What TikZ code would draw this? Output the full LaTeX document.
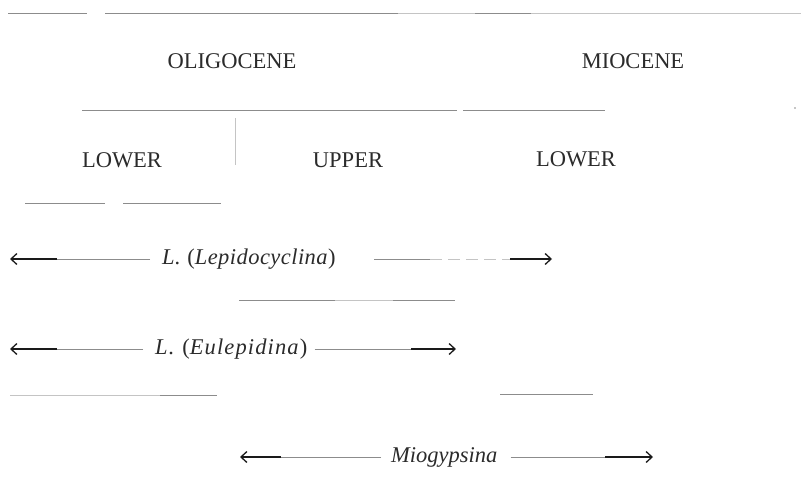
\documentclass[tikz,border=0pt]{standalone}
\usepackage{fontspec}
\setmainfont{Liberation Serif}
\usetikzlibrary{arrows.meta}
\definecolor{ink}{HTML}{2B2B2B}
\definecolor{rulegray}{HTML}{8C8C8C}
\definecolor{faintgray}{HTML}{C4C4C4}
\definecolor{dark}{HTML}{1A1A1A}
\tikzset{
  lbl/.style={text=ink, font=\fontsize{22.5}{27}\selectfont, inner sep=0pt},
  rulel/.style={draw=rulegray, line width=0.9pt},
  faintl/.style={draw=faintgray, line width=0.9pt},
  darkl/.style={draw=dark, line width=1.6pt},
  tipl/.style={darkl, -{Straight Barb[length=6pt,width=11pt,line width=1.3pt]}}
}
\begin{document}
\begin{tikzpicture}[x=1pt,y=-1pt]
\useasboundingbox (0,0) rectangle (801,493);

% top rule
\coordinate (t1) at (8,13);   \coordinate (t2) at (87,13);
\coordinate (t3) at (105,13); \coordinate (t4) at (398,13);
\coordinate (t5) at (475,13); \coordinate (t6) at (531,13);
\coordinate (t7) at (801,13);
\draw[rulel] (t1) -- (t2);
\draw[rulel] (t3) -- (t4);
\draw[faintl] (t4) -- (t5);
\draw[rulel] (t5) -- (t6);
\draw[faintl] (t6) -- (t7);

% epochs
\node[lbl, anchor=base] (olig) at (232,68) {OLIGOCENE};
\node[lbl, anchor=base] (mio) at (633,68) {MIOCENE};

% second rule
\coordinate (s1) at (82,110);  \coordinate (s2) at (457,110);
\coordinate (s3) at (463,110); \coordinate (s4) at (605,110);
\draw[rulel] (s1) -- (s2);
\draw[rulel] (s3) -- (s4);
\fill[rulegray] (795,108) circle (0.8pt);

% vertical divider
\coordinate (v1) at (235,118); \coordinate (v2) at (235,165);
\draw[faintl, line width=0.7pt] (v1) -- (v2);

% sub-epochs
\node[lbl, anchor=base] (low1) at (122,167) {LOWER};
\node[lbl, anchor=base] (upp) at (348,167) {UPPER};
\node[lbl, anchor=base] (low2) at (576,166) {LOWER};

% short rules
\coordinate (r1) at (25,203);  \coordinate (r2) at (105,203);
\coordinate (r3) at (123,203); \coordinate (r4) at (221,203);
\draw[rulel] (r1) -- (r2);
\draw[rulel] (r3) -- (r4);

% Lepidocyclina
\node[lbl, anchor=west] (lep) at (162,259) {\addfontfeature{LetterSpace=2}\textit{L.} (\textit{Lepidocyclina})};
\coordinate (lepA) at (10,259);  \coordinate (lepB) at (57,259);
\coordinate (lepC) at (374,259); \coordinate (lepD) at (430,259);
\coordinate (lepE) at (510,259); \coordinate (lepF) at (552,259);
\draw[rulel, shorten <=12pt] (lep.west) -- (lepB);
\draw[tipl] (lepB) -- (lepA);
\draw[rulel] (lepC) -- (lepD);
\draw[faintl, dash pattern=on 12pt off 6pt] (lepD) -- (lepE);
\draw[tipl] (lepE) -- (lepF);

% middle rule
\coordinate (m1) at (239,300); \coordinate (m2) at (335,300);
\coordinate (m3) at (393,300); \coordinate (m4) at (455,300);
\draw[rulel] (m1) -- (m2);
\draw[faintl] (m2) -- (m3);
\draw[rulel] (m3) -- (m4);

% Eulepidina
\node[lbl, anchor=west] (eul) at (155,349) {\addfontfeature{LetterSpace=5}\textit{L.} (\textit{Eulepidina})};
\coordinate (eulA) at (10,349);  \coordinate (eulB) at (57,349);
\coordinate (eulC) at (411,349); \coordinate (eulD) at (456,349);
\draw[rulel, shorten <=12pt] (eul.west) -- (eulB);
\draw[tipl] (eulB) -- (eulA);
\draw[rulel, shorten <=7pt] (eul.east) -- (eulC);
\draw[tipl] (eulC) -- (eulD);

% lower rules
\coordinate (u1) at (10,395);  \coordinate (u2) at (160,395);
\coordinate (u3) at (217,395);
\coordinate (u4) at (500,394); \coordinate (u5) at (593,394);
\draw[faintl] (u1) -- (u2);
\draw[rulel] (u2) -- (u3);
\draw[rulel] (u4) -- (u5);

% Miogypsina
\node[lbl, anchor=west] (mg) at (391,457) {\textit{Miogypsina}};
\coordinate (mgA) at (240,457); \coordinate (mgB) at (281,457);
\coordinate (mgC) at (605,457); \coordinate (mgD) at (653,457);
\draw[rulel, shorten <=10pt] (mg.west) -- (mgB);
\draw[tipl] (mgB) -- (mgA);
\draw[rulel, shorten <=13pt] (mg.east) -- (mgC);
\draw[tipl] (mgC) -- (mgD);
\end{tikzpicture}
\end{document}
